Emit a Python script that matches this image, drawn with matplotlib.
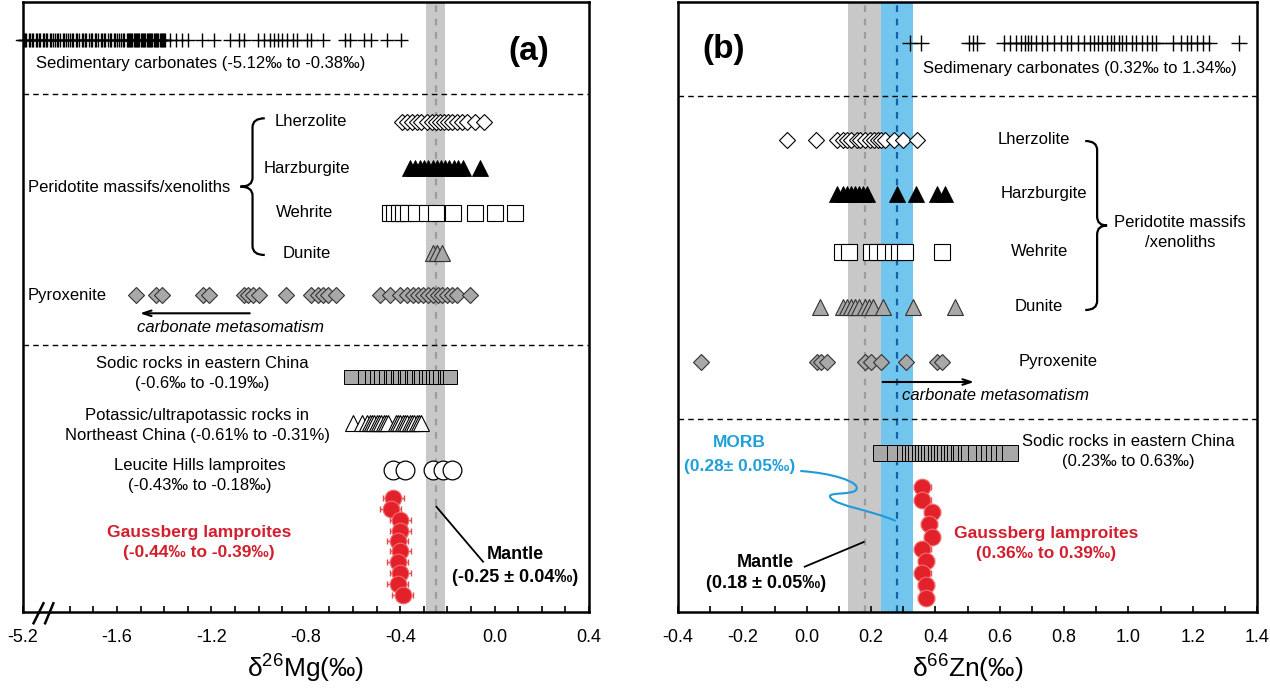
"""
δ26Mg / δ66Zn 对比图
两个面板：(a) Mg 同位素，(b) Zn 同位素
"""
import matplotlib
matplotlib.use('Agg')
import matplotlib.pyplot as plt
from matplotlib.path import Path
from matplotlib.patches import PathPatch

plt.rcParams['font.family'] = ['Liberation Sans', 'DejaVu Sans']
plt.rcParams['axes.unicode_minus'] = False
plt.rcParams['mathtext.default'] = 'regular'

# ---------------- panel (a) data: δ26Mg (‰, axis units after the break) ----------------
mg_carbonates = [-1.995, -1.99, -1.985, -1.975, -1.97, -1.96, -1.955, -1.945, -1.94, -1.93,
                 -1.925, -1.915, -1.91, -1.90, -1.895, -1.885, -1.88, -1.87, -1.865, -1.855,
                 -1.85, -1.84, -1.83, -1.825, -1.815, -1.81, -1.80, -1.79, -1.785, -1.775,
                 -1.77, -1.76, -1.75, -1.745, -1.735, -1.73, -1.72, -1.71, -1.705, -1.695,
                 -1.69, -1.68, -1.67, -1.665, -1.655, -1.65, -1.64, -1.63, -1.625, -1.615,
                 -1.61, -1.60, -1.59, -1.585, -1.575, -1.57, -1.56, -1.555, -1.55, -1.545,
                 -1.54, -1.535, -1.53, -1.525, -1.52, -1.515, -1.51, -1.505, -1.50, -1.495,
                 -1.49, -1.485, -1.48, -1.475, -1.47, -1.465, -1.46, -1.455, -1.45, -1.445,
                 -1.44, -1.435, -1.43, -1.425, -1.42, -1.415, -1.41, -1.405, -1.40, -1.395,
                 -1.374, -1.349, -1.324, -1.299, -1.240, -1.189, -1.122, -1.085, -1.063,
                 -1.004, -0.979, -0.954, -0.937, -0.917, -0.900, -0.878, -0.856, -0.836,
                 -0.794, -0.777, -0.727, -0.634, -0.614, -0.553, -0.525, -0.457, -0.398]
mg_lherzolite = [-0.391, -0.373, -0.352, -0.331, -0.312, -0.288, -0.267, -0.250, -0.231,
                 -0.213, -0.196, -0.179, -0.160, -0.139, -0.118, -0.082, -0.047]
mg_harzburgite = [-0.359, -0.337, -0.316, -0.298, -0.281, -0.262, -0.245, -0.227, -0.210,
                  -0.193, -0.174, -0.156, -0.136, -0.061]
mg_wehrlite = [-0.444, -0.426, -0.407, -0.390, -0.369, -0.333, -0.285, -0.248, -0.177,
               -0.082, 0.003, 0.088]
mg_dunite = [-0.262, -0.245, -0.224]
mg_pyroxenite = [-1.518, -1.437, -1.409, -1.234, -1.210, -1.064, -1.047, -1.026, -0.997,
                 -0.884, -0.778, -0.749, -0.728, -0.706, -0.671, -0.486, -0.444, -0.401,
                 -0.373, -0.345, -0.323, -0.302, -0.281, -0.260, -0.238, -0.224, -0.203,
                 -0.181, -0.160, -0.103]
mg_sodic = [-0.61, -0.55, -0.52, -0.50, -0.48, -0.46, -0.44, -0.43, -0.41, -0.40, -0.38,
            -0.37, -0.35, -0.34, -0.32, -0.31, -0.29, -0.28, -0.26, -0.25, -0.23, -0.21,
            -0.20, -0.19]
mg_potassic = [-0.60, -0.56, -0.54, -0.53, -0.52, -0.51, -0.50, -0.49, -0.48, -0.47, -0.46,
               -0.45, -0.42, -0.41, -0.40, -0.39, -0.38, -0.37, -0.36, -0.35, -0.34, -0.33,
               -0.32, -0.31]
mg_leucite = [-0.43, -0.38, -0.26, -0.22, -0.18]
mg_gaussberg = [-0.43, -0.44, -0.40, -0.40, -0.41, -0.40, -0.41, -0.40, -0.41, -0.39]
mg_gaussberg_err = 0.045
mg_mantle = -0.25
mg_mantle_sd = 0.04

mg_ticks = [-2.0, -1.6, -1.2, -0.8, -0.4, 0.0, 0.4]
mg_ticklabels = ['-5.2', '-1.6', '-1.2', '-0.8', '-0.4', '0.0', '0.4']
mg_minor = [-1.8, -1.7, -1.5, -1.4, -1.3, -1.1, -1.0, -0.9, -0.7, -0.6, -0.5,
            -0.3, -0.2, -0.1, 0.1, 0.2, 0.3]

# ---------------- panel (b) data: δ66Zn (‰) ----------------
zn_carbonates = [0.321, 0.356, 0.504, 0.516, 0.529, 0.6125, 0.631, 0.65, 0.666, 0.679,
                 0.6875, 0.696, 0.7125, 0.731, 0.746, 0.769, 0.791, 0.809, 0.821, 0.844,
                 0.8625, 0.881, 0.894, 0.906, 0.919, 0.934, 0.946, 0.956, 0.971, 0.979,
                 0.994, 1.0125, 1.025, 1.041, 1.059, 1.075, 1.085, 1.1375, 1.1625, 1.181,
                 1.196, 1.2125, 1.231, 1.25, 1.344]
zn_lherzolite = [-0.06, 0.0275, 0.094, 0.1125, 0.125, 0.1375, 0.156, 0.166, 0.181, 0.196,
                 0.209, 0.221, 0.231, 0.244, 0.271, 0.30, 0.344]
zn_harzburgite = [0.094, 0.1125, 0.125, 0.1375, 0.15, 0.1625, 0.175, 0.1875, 0.281,
                  0.341, 0.406, 0.431]
zn_wehrlite = [0.11, 0.131, 0.20, 0.219, 0.244, 0.269, 0.2875, 0.306, 0.421]
zn_dunite = [0.041, 0.1125, 0.125, 0.1375, 0.15, 0.1625, 0.181, 0.194, 0.206, 0.2375,
             0.331, 0.4625]
zn_pyroxenite = [-0.329, 0.031, 0.046, 0.0625, 0.181, 0.20, 0.231, 0.31, 0.406, 0.421]
zn_sodic = [0.231, 0.275, 0.306, 0.321, 0.331, 0.341, 0.351, 0.3625, 0.371, 0.381, 0.391,
            0.4025, 0.4125, 0.421, 0.431, 0.441, 0.4525, 0.4625, 0.4725, 0.481, 0.494,
            0.504, 0.525, 0.55, 0.566, 0.581, 0.5975, 0.6125, 0.631]
zn_gaussberg = [0.36, 0.36, 0.39, 0.38, 0.39, 0.36, 0.37, 0.36, 0.37, 0.37]
zn_gaussberg_err = 0.025
zn_mantle = 0.18
zn_morb = 0.28
zn_sd = 0.05

zn_ticks = [-0.4, -0.2, 0.0, 0.2, 0.4, 0.6, 0.8, 1.0, 1.2, 1.4]
zn_minor = [-0.3, -0.1, 0.1, 0.3, 0.5, 0.7, 0.9, 1.1, 1.3]

# ---------------- layout (y in pixel rows, 0 = top of figure) ----------------
Y_BOTTOM, Y_TOP = 612, 2.5
rows_a = dict(carb=40, lherz=121.7, harz=168.3, wehr=212.7, dun=253.3, pyx=295,
              sodic=376.7, potas=423.3, leuc=470)
gauss_rows_a = [498.3, 509.3, 520, 530.7, 541.3, 551.3, 561.7, 573.3, 584, 595]
rows_b = dict(carb=43, lherz=140, harz=194, wehr=252, dun=307, pyx=362, sodic=453)
gauss_rows_b = [487, 500, 512, 524, 537, 549, 561, 573, 585, 598]

RED = '#E3212B'
RED_TXT = '#D21F2D'
BLUE_BAND = '#72C6EE'
BLUE_TXT = '#1FA0DA'
GREY_FILL = '#A8A8A8'
FS = 12
MS_DIA, MS_TRI, MS_SQ = 8, 12, 11


def row(ax, xs, y, **kw):
    ax.plot(xs, [y] * len(xs), ls='none', **kw)


def brace(ax, x_line, x_end, x_tip, y0, y1, r=9, lw=1.6):
    ym = (y0 + y1) / 2
    verts = [(x_end, y0), (x_line, y0), (x_line, y0 + r), (x_line, ym - r),
             (x_line, ym), (x_tip, ym), (x_line, ym), (x_line, ym + r),
             (x_line, y1 - r), (x_line, y1), (x_end, y1)]
    codes = [Path.MOVETO, Path.CURVE3, Path.CURVE3, Path.LINETO, Path.CURVE3, Path.CURVE3,
             Path.CURVE3, Path.CURVE3, Path.LINETO, Path.CURVE3, Path.CURVE3]
    ax.add_patch(PathPatch(Path(verts, codes), fc='none', ec='k', lw=lw, zorder=5))


def style_axes(ax):
    ax.set_ylim(Y_BOTTOM, Y_TOP)
    ax.set_yticks([])
    for s in ax.spines.values():
        s.set_linewidth(1.8)
    ax.tick_params(axis='x', which='both', direction='in', length=4.5, width=1.2,
                   labelsize=13, pad=12)


fig = plt.figure(figsize=(12.7, 6.91), dpi=100)
W, H = 1270, 691
ax_a = fig.add_axes([22.7 / W, (H - Y_BOTTOM) / H, (589 - 22.7) / W, (Y_BOTTOM - Y_TOP) / H])
ax_b = fig.add_axes([678 / W, (H - Y_BOTTOM) / H, (1257 - 678) / W, (Y_BOTTOM - Y_TOP) / H])

# =========================== panel (a) ===========================
ax = ax_a
style_axes(ax)
ax.set_xlim(-2.0, 0.4)
ax.set_xticks(mg_ticks)
ax.set_xticklabels(mg_ticklabels)
ax.set_xticks(mg_minor, minor=True)
ax.set_xlabel('δ$^{26}$Mg(‰)', fontsize=19, labelpad=5)

ax.axvspan(mg_mantle - mg_mantle_sd, mg_mantle + mg_mantle_sd, color='#C8C8C8', lw=0, zorder=0)
ax.axvline(mg_mantle, color='#9C9C9C', lw=1.6, ls=(0, (3, 3)), zorder=1)
for y in (94.5, 344.7):
    ax.axhline(y, color='k', lw=1, ls=(0, (4, 3)), zorder=1)

row(ax, mg_carbonates, rows_a['carb'], marker='+', ms=10, mew=1, color='k', clip_on=False)
ax.plot([-2.03, mg_carbonates[0]], [rows_a['carb']] * 2, color='k', lw=1, clip_on=False)
row(ax, mg_lherzolite, rows_a['lherz'], marker='D', ms=MS_DIA, mfc='white', mec='k', mew=0.8, zorder=3)
row(ax, mg_harzburgite, rows_a['harz'], marker='^', ms=MS_TRI, mfc='k', mec='k', mew=0.6, zorder=3)
row(ax, mg_wehrlite, rows_a['wehr'], marker='s', ms=MS_SQ, mfc='white', mec='k', mew=0.8, zorder=3)
row(ax, mg_dunite, rows_a['dun'], marker='^', ms=MS_TRI, mfc=GREY_FILL, mec='#333333', mew=0.8, zorder=3)
row(ax, mg_pyroxenite, rows_a['pyx'], marker='D', ms=MS_DIA, mfc=GREY_FILL, mec='#333333', mew=0.8, zorder=3)
row(ax, mg_sodic, rows_a['sodic'], marker='s', ms=10.5, mfc=GREY_FILL, mec='k', mew=0.7, zorder=3)
row(ax, mg_potassic, rows_a['potas'], marker='^', ms=12, mfc='white', mec='k', mew=0.8, zorder=3)
row(ax, mg_leucite, rows_a['leuc'], marker='o', ms=13.5, mfc='white', mec='k', mew=0.9, zorder=3)
ax.errorbar(mg_gaussberg, gauss_rows_a, xerr=mg_gaussberg_err, fmt='none', ecolor='#E8484E',
            elinewidth=1, capsize=2.5, zorder=3)
ax.plot(mg_gaussberg, gauss_rows_a, ls='none', marker='o', ms=12, mfc=RED, mec='#F07070',
        mew=0.8, zorder=4)

ax.text(-1.247, 64, 'Sedimentary carbonates (-5.12‰ to -0.38‰)', fontsize=FS, ha='center', va='center')
ax.text(0.145, 52, '(a)', fontsize=24, fontweight='bold', ha='center', va='center')
for name, x, key in [('Lherzolite', -0.781, 'lherz'), ('Harzburgite', -0.796, 'harz'),
                     ('Wehrite', -0.806, 'wehr'), ('Dunite', -0.796, 'dun')]:
    ax.text(x, rows_a[key], name, fontsize=FS, ha='center', va='center')
brace(ax, -1.026, -0.974, -1.077, 118.3, 255)
ax.text(-1.119, 188, 'Peridotite massifs/xenoliths', fontsize=FS, ha='right', va='center')
ax.text(-1.811, 296, 'Pyroxenite', fontsize=FS, ha='center', va='center')
ax.annotate('', xy=(-1.515, 313.3), xytext=(-1.026, 313.3),
            arrowprops=dict(arrowstyle='->,head_length=0.6,head_width=0.2', lw=1.5, color='k'))
ax.text(-1.121, 328, 'carbonate metasomatism', fontsize=FS, style='italic', ha='center', va='center')
ax.text(-1.240, 364, 'Sodic rocks in eastern China', fontsize=FS, ha='center', va='center')
ax.text(-1.240, 384, '(-0.6‰ to -0.19‰)', fontsize=FS, ha='center', va='center')
ax.text(-1.261, 416, 'Potassic/ultrapotassic rocks in', fontsize=FS, ha='center', va='center')
ax.text(-1.261, 436, 'Northeast China (-0.61% to -0.31%)', fontsize=FS, ha='center', va='center')
ax.text(-1.248, 466, 'Leucite Hills lamproites', fontsize=FS, ha='center', va='center')
ax.text(-1.248, 486, '(-0.43‰ to -0.18‰)', fontsize=FS, ha='center', va='center')
ax.text(-1.253, 533, 'Gaussberg lamproites', fontsize=12.5, fontweight='bold', color=RED_TXT,
        ha='center', va='center')
ax.text(-1.253, 553, '(-0.44‰ to -0.39‰)', fontsize=12.5, fontweight='bold', color=RED_TXT,
        ha='center', va='center')
ax.plot([-0.247, -0.049], [506.7, 561.7], color='k', lw=1.3, zorder=5)
ax.text(0.089, 555, 'Mantle', fontsize=13, fontweight='bold', ha='center', va='center')
ax.text(0.089, 578, '(-0.25 ± 0.04‰)', fontsize=13, fontweight='bold', ha='center', va='center')

# axis break marks
xt = ax.get_xaxis_transform()
for x0, x1 in [(-1.954, -1.912), (-1.905, -1.870)]:
    ax.plot([x0, x1], [-0.0185, 0.0143], transform=xt, color='k', lw=1.8, clip_on=False, zorder=6)

# =========================== panel (b) ===========================
ax = ax_b
style_axes(ax)
ax.set_xlim(-0.4, 1.4)
ax.set_xticks(zn_ticks)
ax.set_xticklabels([f'{t:.1f}' for t in zn_ticks])
ax.set_xticks(zn_minor, minor=True)
ax.set_xlabel('δ$^{66}$Zn(‰)', fontsize=19, labelpad=5)

ax.axvspan(zn_mantle - zn_sd, zn_mantle + zn_sd, color='#C8C8C8', lw=0, zorder=0)
ax.axvspan(zn_morb - zn_sd, zn_morb + zn_sd, color=BLUE_BAND, lw=0, zorder=0)
ax.axvline(zn_mantle, color='#9C9C9C', lw=1.6, ls=(0, (3, 3)), zorder=1)
ax.axvline(zn_morb, color='#1560A8', lw=1.6, ls=(0, (3, 3)), zorder=1)
for y in (96, 419):
    ax.axhline(y, color='k', lw=1, ls=(0, (4, 3)), zorder=1)

row(ax, zn_carbonates, rows_b['carb'], marker='+', ms=11, mew=1, color='k')
ax.plot(zn_carbonates[5:-1], [rows_b['carb']] * len(zn_carbonates[5:-1]), color='k', lw=1)
row(ax, zn_lherzolite, rows_b['lherz'], marker='D', ms=MS_DIA, mfc='white', mec='k', mew=0.8, zorder=3)
row(ax, zn_harzburgite, rows_b['harz'], marker='^', ms=MS_TRI, mfc='k', mec='k', mew=0.6, zorder=3)
row(ax, zn_wehrlite, rows_b['wehr'], marker='s', ms=MS_SQ, mfc='white', mec='k', mew=0.8, zorder=3)
row(ax, zn_dunite, rows_b['dun'], marker='^', ms=MS_TRI, mfc=GREY_FILL, mec='#333333', mew=0.8, zorder=3)
row(ax, zn_pyroxenite, rows_b['pyx'], marker='D', ms=MS_DIA, mfc=GREY_FILL, mec='#333333', mew=0.8, zorder=3)
row(ax, zn_sodic, rows_b['sodic'], marker='s', ms=11, mfc=GREY_FILL, mec='k', mew=0.7, zorder=3)
ax.errorbar(zn_gaussberg, gauss_rows_b, xerr=zn_gaussberg_err, fmt='none', ecolor='#E8484E',
            elinewidth=1, capsize=2.5, zorder=3)
ax.plot(zn_gaussberg, gauss_rows_b, ls='none', marker='o', ms=12, mfc=RED, mec='#F07070',
        mew=0.8, zorder=4)

ax.text(-0.257, 50, '(b)', fontsize=24, fontweight='bold', ha='center', va='center')
ax.text(0.85, 69, 'Sedimenary carbonates (0.32‰ to 1.34‰)', fontsize=FS, ha='center', va='center')
for name, x, key in [('Lherzolite', 0.706, 'lherz'), ('Harzburgite', 0.7375, 'harz'),
                     ('Wehrite', 0.725, 'wehr'), ('Dunite', 0.7225, 'dun'),
                     ('Pyroxenite', 0.781, 'pyx')]:
    ax.text(x, rows_b[key], name, fontsize=FS, ha='center', va='center')
brace(ax, 0.903, 0.866, 0.934, 141, 310)
ax.text(1.16, 223, 'Peridotite massifs', fontsize=FS, ha='center', va='center')
ax.text(1.16, 243, '/xenoliths', fontsize=FS, ha='center', va='center')
ax.annotate('', xy=(0.529, 382), xytext=(0.2275, 382),
            arrowprops=dict(arrowstyle='->,head_length=0.6,head_width=0.2', lw=1.5, color='k'))
ax.text(0.586, 396, 'carbonate metasomatism', fontsize=FS, style='italic', ha='center', va='center')
ax.text(1.0, 442, 'Sodic rocks in eastern China', fontsize=FS, ha='center', va='center')
ax.text(1.0, 462, '(0.23‰ to 0.63‰)', fontsize=FS, ha='center', va='center')
ax.text(0.744, 534, 'Gaussberg lamproites', fontsize=12.5, fontweight='bold', color=RED_TXT,
        ha='center', va='center')
ax.text(0.744, 554, '(0.36‰ to 0.39‰)', fontsize=12.5, fontweight='bold', color=RED_TXT,
        ha='center', va='center')
ax.text(-0.209, 443, 'MORB', fontsize=12.5, fontweight='bold', color=BLUE_TXT, ha='center', va='center')
ax.text(-0.209, 467, '(0.28± 0.05‰)', fontsize=12.5, fontweight='bold', color=BLUE_TXT,
        ha='center', va='center')
morb_path = Path([(-0.02, 471), (0.08, 473), (0.165, 482), (0.155, 489),
                  (0.15, 496), (0.055, 491), (0.075, 498),
                  (0.095, 506), (0.20, 510), (0.277, 521)],
                 [Path.MOVETO, Path.CURVE4, Path.CURVE4, Path.CURVE4,
                  Path.CURVE4, Path.CURVE4, Path.CURVE4,
                  Path.CURVE4, Path.CURVE4, Path.CURVE4])
ax.add_patch(PathPatch(morb_path, fc='none', ec='#1E9BD7', lw=1.5, zorder=5))
ax.plot([-0.006, 0.1775], [566.7, 542], color='k', lw=1.3, zorder=5)
ax.text(-0.1275, 563, 'Mantle', fontsize=13, fontweight='bold', ha='center', va='center')
ax.text(-0.1275, 584, '(0.18 ± 0.05‰)', fontsize=13, fontweight='bold', ha='center', va='center')

fig.savefig('out.png', dpi=100)
